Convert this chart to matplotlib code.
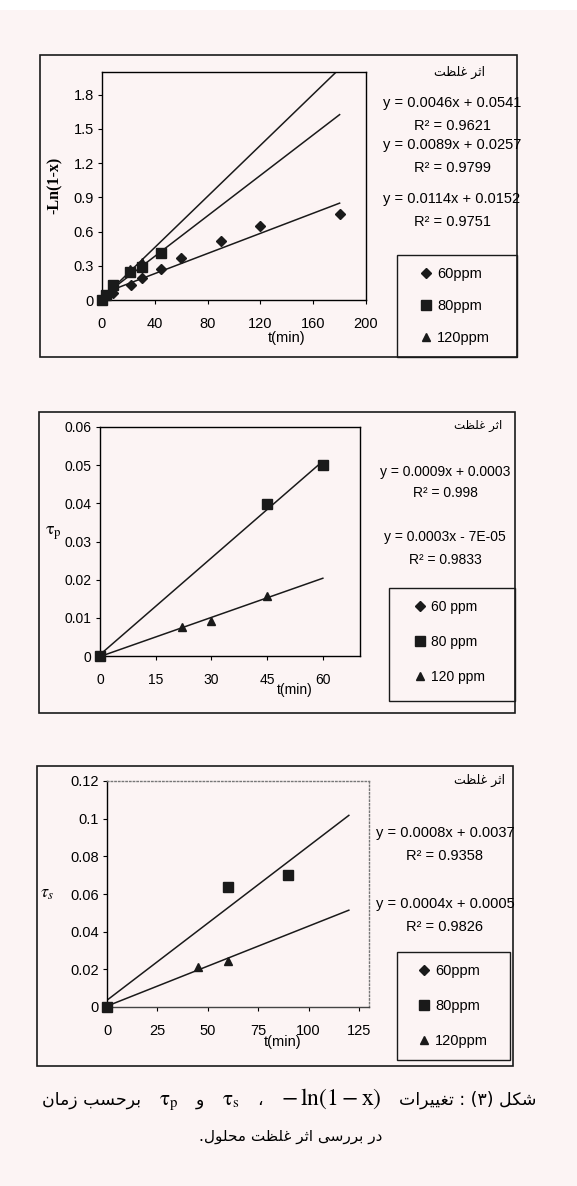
import re
import numpy as np
import matplotlib
matplotlib.use('Agg')
import matplotlib.pyplot as plt
from matplotlib.patches import Rectangle

W, H = 577, 1186
BG = '#fcf4f4'
INK = '#1a1a1a'

# chart 1: -ln(1-x) vs t
t60_a = [0, 8, 22, 30, 45, 60, 90, 120, 180]
ln60_a = [0, 0.06, 0.13, 0.19, 0.27, 0.37, 0.52, 0.65, 0.755]
t80_a = [0, 3, 8, 21, 30, 45]
ln80_a = [0, 0.04, 0.13, 0.25, 0.29, 0.41]
t120_a = [0, 3, 8, 21, 30]
ln120_a = [0, 0.04, 0.12, 0.27, 0.33]
eq_a = ['y = 0.0046x + 0.0541', 'R² = 0.9621', 'y = 0.0089x + 0.0257',
        'R² = 0.9799', 'y = 0.0114x + 0.0152', 'R² = 0.9751']
xt_a = [0, 40, 80, 120, 160, 200]
yt_a = [0, 0.3, 0.6, 0.9, 1.2, 1.5, 1.8]
ytl_a = ['0', '0.3', '0.6', '0.9', '1.2', '1.5', '1.8']

# chart 2: tau_p vs t
t80_b = [0, 45, 60]
taup80 = [0, 0.0398, 0.050]
t120_b = [0, 22, 30, 45]
taup120 = [0, 0.0077, 0.0092, 0.0157]
eq_b = ['y = 0.0009x + 0.0003', 'R² = 0.998', 'y = 0.0003x - 7E-05', 'R² = 0.9833']
xt_b = [0, 15, 30, 45, 60]
yt_b = [0, 0.01, 0.02, 0.03, 0.04, 0.05, 0.06]
ytl_b = ['0', '0.01', '0.02', '0.03', '0.04', '0.05', '0.06']

# chart 3: tau_s vs t
t80_c = [0, 60, 90]
taus80 = [0, 0.0635, 0.070]
t120_c = [0, 45, 60]
taus120 = [0, 0.0215, 0.0245]
eq_c = ['y = 0.0008x + 0.0037', 'R² = 0.9358', 'y = 0.0004x + 0.0005', 'R² = 0.9826']
xt_c = [0, 25, 50, 75, 100, 125]
yt_c = [0, 0.02, 0.04, 0.06, 0.08, 0.1, 0.12]
ytl_c = ['0', '0.02', '0.04', '0.06', '0.08', '0.1', '0.12']

labels_tight = ['60ppm', '80ppm', '120ppm']
labels_spaced = ['60 ppm', '80 ppm', '120 ppm']
effect_label = 'اثر غلظت'

# persian letters -> (isolated, final, initial, medial) presentation forms
FORMS = {
    'ا': ('\uFE8D', '\uFE8E', None, None),
    'ب': ('\uFE8F', '\uFE90', '\uFE91', '\uFE92'),
    'ت': ('\uFE95', '\uFE96', '\uFE97', '\uFE98'),
    'ث': ('\uFE99', '\uFE9A', '\uFE9B', '\uFE9C'),
    'ح': ('\uFEA1', '\uFEA2', '\uFEA3', '\uFEA4'),
    'د': ('\uFEA9', '\uFEAA', None, None),
    'ر': ('\uFEAD', '\uFEAE', None, None),
    'ز': ('\uFEAF', '\uFEB0', None, None),
    'س': ('\uFEB1', '\uFEB2', '\uFEB3', '\uFEB4'),
    'ش': ('\uFEB5', '\uFEB6', '\uFEB7', '\uFEB8'),
    'ظ': ('\uFEC5', '\uFEC6', '\uFEC7', '\uFEC8'),
    'غ': ('\uFECD', '\uFECE', '\uFECF', '\uFED0'),
    'ک': ('\uFB8E', '\uFB8F', '\uFB90', '\uFB91'),
    'ل': ('\uFEDD', '\uFEDE', '\uFEDF', '\uFEE0'),
    'م': ('\uFEE1', '\uFEE2', '\uFEE3', '\uFEE4'),
    'ن': ('\uFEE5', '\uFEE6', '\uFEE7', '\uFEE8'),
    'و': ('\uFEED', '\uFEEE', None, None),
    'ی': ('\uFBFC', '\uFBFD', '\uFBFE', '\uFBFF'),
}


def fa(text):
    """Shape + reorder persian text by hand (matplotlib draws left to right only)."""
    def shape_run(m):
        w = m.group(0)
        out = []
        for i, c in enumerate(w):
            f = FORMS.get(c)
            if f is None:
                out.append(c)
                continue
            prev = i > 0 and w[i - 1] in FORMS and FORMS[w[i - 1]][2] is not None
            nxt = i < len(w) - 1 and w[i + 1] in FORMS and f[2] is not None
            idx = 3 if (prev and nxt) else 1 if prev else 2 if nxt else 0
            out.append(f[idx])
        return ''.join(out)
    s = re.sub('[\u0600-\u06FF]+', shape_run, text)
    return s[::-1].translate(str.maketrans('()', ')('))


def px(x, y):
    return x / W, 1 - y / H


def rect(x0, y0, x1, y1):
    return [x0 / W, 1 - y1 / H, (x1 - x0) / W, (y1 - y0) / H]


def frame(fig, x0, y0, x1, y1, lw=1.2):
    fig.add_artist(Rectangle((x0 / W, 1 - y1 / H), (x1 - x0) / W, (y1 - y0) / H,
                             transform=fig.transFigure, fill=False, ec=INK, lw=lw))


def trend(ax, t, y, t_end):
    m, b = np.polyfit(t, y, 1)
    xs = np.array([0, t_end])
    ax.plot(xs, m * xs + b, color=INK, lw=1.1, zorder=2)


plt.rcParams['font.family'] = ['Liberation Sans', 'DejaVu Sans']
plt.rcParams['mathtext.fontset'] = 'stix'
plt.rcParams['xtick.major.size'] = 3
plt.rcParams['ytick.major.size'] = 3
plt.rcParams['xtick.major.pad'] = 9
plt.rcParams['ytick.major.pad'] = 3

fig = plt.figure(figsize=(W / 100, H / 100), dpi=100, facecolor=BG)
fig.add_artist(Rectangle((0, 1 - 10 / H), 1, 10 / H, transform=fig.transFigure,
                         color='white', lw=0))

mk = dict(ls='none', color=INK, clip_on=False, zorder=3)

# ---- chart 1
frame(fig, 40, 55, 517, 357)
frame(fig, 397, 255, 517, 357, lw=1.0)
ax1 = fig.add_axes(rect(102, 72, 366, 300), facecolor=BG)
trend(ax1, t60_a, ln60_a, 180)
trend(ax1, t80_a, ln80_a, 180)
trend(ax1, t120_a, ln120_a, 180)
h120, = ax1.plot(t120_a, ln120_a, marker='^', ms=6, **mk)
h60, = ax1.plot(t60_a, ln60_a, marker='D', ms=5, **mk)
h80, = ax1.plot(t80_a, ln80_a, marker='s', ms=6.5, **mk)
ax1.set_xlim(0, 200)
ax1.set_ylim(0, 2.0)
ax1.set_xticks(xt_a)
ax1.set_yticks(yt_a)
ax1.set_yticklabels(ytl_a)
ax1.tick_params(labelsize=10.5)
ax1.legend([h60, h80, h120], labels_tight, loc='center', bbox_to_anchor=px(455, 306),
           bbox_transform=fig.transFigure, frameon=False, fontsize=10.5,
           handlelength=0.8, handletextpad=0.4, labelspacing=1.25)
fig.text(*px(287, 338), 't(min)', ha='center', va='center', fontsize=10.5)
fig.text(*px(55, 185), '-Ln(1-x)', rotation=90, ha='center', va='center',
         fontsize=11.5, family='Liberation Serif', weight='bold')
fig.text(*px(460, 72), fa(effect_label), ha='center', va='center',
         fontsize=9, family='DejaVu Sans')
for s, y in zip(eq_a, [103, 126, 145, 168, 199, 222]):
    fig.text(*px(452, y), s, ha='center', va='center', fontsize=10.5)

# ---- chart 2
frame(fig, 39, 412, 515, 713)
frame(fig, 389, 588, 515, 701, lw=1.0)
ax2 = fig.add_axes(rect(100, 427, 360, 656), facecolor=BG)
trend(ax2, t80_b, taup80, 60)
trend(ax2, t120_b, taup120, 60)
g60, = ax2.plot([], [], marker='D', ms=5, **mk)
g80, = ax2.plot(t80_b, taup80, marker='s', ms=6.5, **mk)
g120, = ax2.plot(t120_b, taup120, marker='^', ms=6, **mk)
ax2.set_xlim(0, 70)
ax2.set_ylim(0, 0.06)
ax2.set_xticks(xt_b)
ax2.set_yticks(yt_b)
ax2.set_yticklabels(ytl_b)
ax2.tick_params(labelsize=10)
ax2.legend([g60, g80, g120], labels_spaced, loc='center', bbox_to_anchor=px(450, 642),
           bbox_transform=fig.transFigure, frameon=False, fontsize=10,
           handlelength=0.8, handletextpad=0.4, labelspacing=1.5)
fig.text(*px(295, 690), 't(min)', ha='center', va='center', fontsize=10)
fig.text(*px(53, 533), r'$\mathrm{\tau}_\mathrm{p}$', ha='center', va='center', fontsize=13)
fig.text(*px(478, 426), fa(effect_label), ha='center', va='center',
         fontsize=8.5, family='DejaVu Sans')
for s, y in zip(eq_b, [472, 493, 537, 560]):
    fig.text(*px(445, y), s, ha='center', va='center', fontsize=10)

# ---- chart 3
frame(fig, 37, 766, 513, 1066)
frame(fig, 397, 952, 510, 1060, lw=1.0)
ax3 = fig.add_axes(rect(107, 781, 369, 1007), facecolor=BG)
trend(ax3, t80_c, taus80, 120)
trend(ax3, t120_c, taus120, 120)
k60, = ax3.plot([], [], marker='D', ms=5, **mk)
k80, = ax3.plot(t80_c, taus80, marker='s', ms=6.5, **mk)
k120, = ax3.plot(t120_c, taus120, marker='^', ms=6, **mk)
ax3.set_xlim(0, 130)
ax3.set_ylim(0, 0.12)
ax3.set_xticks(xt_c)
ax3.set_yticks(yt_c)
ax3.set_yticklabels(ytl_c)
ax3.tick_params(labelsize=10.5)
for side in ['top', 'right']:
    ax3.spines[side].set_linestyle(':')
    ax3.spines[side].set_color('#777777')
ax3.spines['bottom'].set_color('#444444')
ax3.legend([k60, k80, k120], labels_tight, loc='center', bbox_to_anchor=px(453, 1006),
           bbox_transform=fig.transFigure, frameon=False, fontsize=10.5,
           handlelength=0.8, handletextpad=0.4, labelspacing=1.45)
fig.text(*px(283, 1042), 't(min)', ha='center', va='center', fontsize=10.5)
fig.text(*px(47, 893), r'$\tau_s$', ha='center', va='center', fontsize=13)
fig.text(*px(480, 780), fa(effect_label), ha='center', va='center',
         fontsize=9, family='DejaVu Sans')
for s, y in zip(eq_c, [833, 856, 904, 927]):
    fig.text(*px(445, y), s, ha='center', va='center', fontsize=10.5)

for ax in [ax1, ax2, ax3]:
    for sp in ax.spines.values():
        sp.set_linewidth(1.0)

# ---- caption, right-to-left line laid out piece by piece
fa_kw = dict(fontsize=12.5, family='DejaVu Sans')
pieces = [
    (fa('برحسب زمان'), fa_kw),
    (r'$\mathrm{\tau}_\mathrm{p}$', dict(fontsize=15)),
    (fa('و'), fa_kw),
    (r'$\mathrm{\tau}_\mathrm{s}$', dict(fontsize=15)),
    (fa('،'), fa_kw),
    (r'$-\,\ln(1-\mathrm{x})$', dict(fontsize=17)),
    (fa('شکل (۳) : تغییرات'), fa_kw),
]
cap_texts = [fig.text(0, 1 - 1105 / H, s, ha='left', va='baseline', **kw) for s, kw in pieces]
renderer = fig.canvas.get_renderer()
widths = [t.get_window_extent(renderer).width for t in cap_texts]
gap = (537 - 42 - sum(widths)) / (len(cap_texts) - 1)
x = 42
for t, w in zip(cap_texts, widths):
    t.set_x(x / W)
    x += w + gap

fig.text(*px(291, 1137), fa('در بررسی اثر غلظت محلول.'), ha='center', va='center',
         fontsize=11, family='DejaVu Sans')

fig.savefig('out.png', dpi=100, facecolor=BG)
